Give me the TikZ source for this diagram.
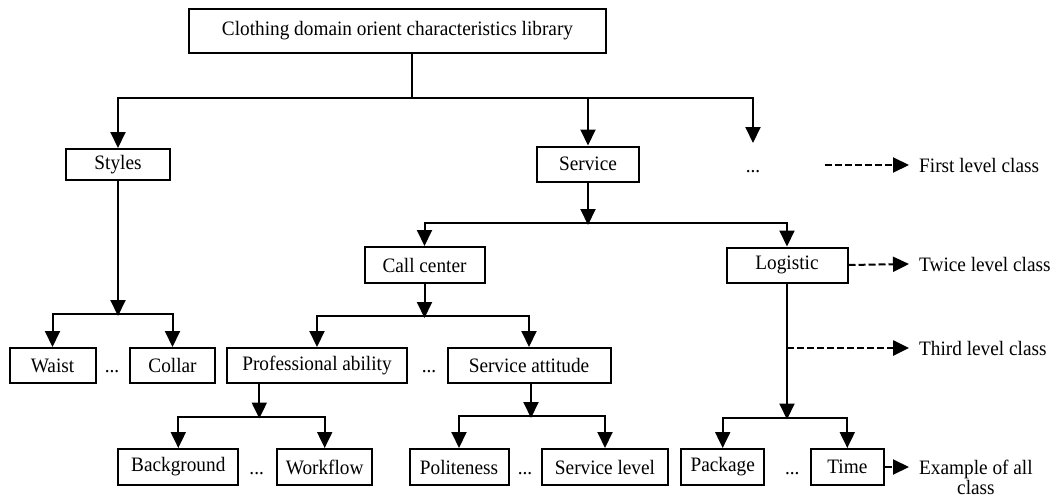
\documentclass[tikz,border=0pt]{standalone}
\usepackage{fontspec}
\setmainfont{Liberation Serif}[FakeStretch=0.94]
\usetikzlibrary{arrows.meta,calc}
\begin{document}
\begin{tikzpicture}[x=1pt,y=-1pt,
  txt/.style={font=\fontsize{20.5}{22}\selectfont},
  box/.style={txt, draw, line width=2pt, minimum height=35pt, inner sep=0pt},
  dotsn/.style={txt, anchor=base, inner sep=0pt},
  lbl/.style={txt, anchor=west, inner sep=0pt},
  conn/.style={line width=2pt},
  arr/.style={conn, -{Triangle[length=16pt,width=15pt]}},
  darr/.style={arr, dash pattern=on 7pt off 3pt}]
\useasboundingbox (0,0) rectangle (1055,498);
% nodes
\node[box, minimum width=417pt, minimum height=44pt] (top) at (397.5,30.5) {Clothing domain orient characteristics library};
\node[box, minimum width=104pt, minimum height=31pt] (styles) at (118,164.5) {Styles};
\node[box, minimum width=102pt] (service) at (588,164) {Service};
\node[dotsn] (dots1) at (753,172) {...};
\node[box, minimum width=120pt, minimum height=36pt] (call) at (424.5,265) {Call center};
\node[box, minimum width=121pt] (logistic) at (787,265) {Logistic};
\node[box, minimum width=86pt] (waist) at (52.5,365.5) {Waist};
\node[dotsn] (dots2) at (112,372) {...};
\node[box, minimum width=85pt] (collar) at (172.5,365.5) {Collar};
\node[box, minimum width=180pt] (prof) at (317,365.5) {Professional ability};
\node[dotsn] (dots3) at (429,372) {...};
\node[box, minimum width=163pt] (satt) at (529,365.5) {Service attitude};
\node[box, minimum width=120pt, minimum height=36pt] (bg) at (178.3,467) {Background};
\node[dotsn] (dots4) at (256.7,474) {...};
\node[box, minimum width=95pt, minimum height=36pt] (wf) at (324.7,467) {Workflow};
\node[box, minimum width=99pt, minimum height=36pt] (pol) at (459,467) {Politeness};
\node[dotsn] (dots5) at (525,474) {...};
\node[box, minimum width=126pt, minimum height=36pt] (slev) at (605,467) {Service level};
\node[box, minimum width=83pt, minimum height=36pt] (pkg) at (722.7,467) {Package};
\node[dotsn] (dots6) at (792.3,474) {...};
\node[box, minimum width=73pt, minimum height=36pt] (time) at (847.3,467) {Time};
% legend labels
\node[lbl] (l1) at (919,165) {First level class};
\node[lbl] (l2) at (919,264) {Twice level class};
\node[lbl] (l3) at (919,348) {Third level class};
\node[lbl, align=center, font=\fontsize{20.5}{20}\selectfont] (l4) at (919,477) {Example of all\\class};
% junctions
\coordinate (j0) at (412,98);
\coordinate (e1) at (753,143);
\coordinate (j1) at (118,314);
\coordinate (j2) at (588,223);
\coordinate (j3) at (424.5,316);
\coordinate (j4) at (259.3,416.5);
\coordinate (j5) at (531,416);
\coordinate (j6) at (787,417.5);
% level 0 -> 1
\draw[conn] ([xshift=14.5pt]top.south) -- (j0);
\draw[arr] (j0) -| (styles.north);
\draw[arr] (j0) -| (e1);
\draw[arr] (service.north |- j0) -- (service.north);
% styles
\draw[arr] (styles.south) -- ([yshift=-2pt]j1);
\draw[arr] (j1) -| (waist.north);
\draw[arr] (j1) -| (collar.north);
% service
\draw[arr] (service.south) -- ([yshift=-2pt]j2);
\draw[arr] (j2) -| (call.north);
\draw[arr] (j2) -| (logistic.north);
% call center
\draw[arr] (call.south) -- ([yshift=-2pt]j3);
\draw[arr] (j3) -| (prof.north);
\draw[arr] (j3) -| (satt.north);
% professional ability
\draw[arr] (prof.south -| j4) -- ([yshift=-2pt]j4);
\draw[arr] (j4) -| (bg.north);
\draw[arr] (j4) -| (wf.north);
% service attitude
\draw[arr] (satt.south -| j5) -- ([yshift=-2pt]j5);
\draw[arr] (j5) -| (pol.north);
\draw[arr] (j5) -| (slev.north);
% logistic
\draw[arr] (logistic.south) -- ([yshift=-2pt]j6);
\draw[arr] (j6) -| (pkg.north);
\draw[arr] (j6) -| (time.north);
% dashed legend arrows
\coordinate (d1) at (824.7,165);
\coordinate (d3) at (787,348);
\coordinate (d4) at (909,467);
\draw[darr] (d1) -- ([xshift=-10pt]l1.west);
\draw[darr] (logistic.east) -- ([xshift=-10pt]l2.west);
\draw[darr, line width=2.6pt] (d3) -- ([xshift=-10pt]l3.west);
\draw[darr] (time.east) -- (d4);
\end{tikzpicture}
\end{document}
